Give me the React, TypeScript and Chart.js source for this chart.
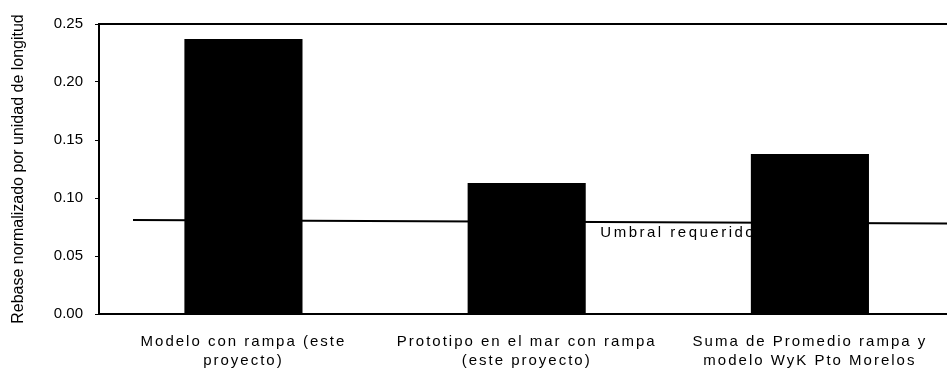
import React, { useEffect, useRef } from 'react';
import { Chart, registerables } from 'chart.js';

Chart.register(...registerables);

const categories: string[][] = [
  ['Modelo con rampa (este', 'proyecto)'],
  ['Prototipo en el mar con rampa', '(este proyecto)'],
  ['Suma de Promedio rampa y', 'modelo WyK Pto Morelos'],
];
const categoryPositions = [1, 2, 3];
const barValues = [0.237, 0.113, 0.138];
const thresholdX = [0.61, 3.484];
const thresholdValues = [0.081, 0.078];
const thresholdLabel = 'Umbral requerido';
const thresholdLabelX = 2.26;
const yTitle = 'Rebase normalizado por unidad de longitud';
const yMin = 0;
const yMax = 0.25;
const yStep = 0.05;
const xMin = 0.49;
const xMax = 3.484;

const FONT = '"Liberation Sans", Arial, Helvetica, sans-serif';

export default function App() {
  const ref = useRef<HTMLCanvasElement | null>(null);

  useEffect(() => {
    document.body.style.margin = '0';
    const canvas = ref.current;
    if (!canvas) return;

    const setSpacing = (ctx: any, v: string) => {
      try { ctx.letterSpacing = v; } catch (e) {}
    };

    const frameAndLabel = {
      id: 'frameAndLabel',
      beforeDraw(chart: any) {
        setSpacing(chart.ctx, '0px');
      },
      beforeDatasetsDraw(chart: any) {
        const { ctx, scales } = chart;
        const x = scales.x.getPixelForValue(thresholdLabelX);
        const t = (thresholdLabelX - thresholdX[0]) / (thresholdX[1] - thresholdX[0]);
        const v = thresholdValues[0] + t * (thresholdValues[1] - thresholdValues[0]);
        const y = scales.y.getPixelForValue(v);
        ctx.save();
        ctx.font = `15px ${FONT}`;
        setSpacing(ctx, '2.5px');
        ctx.fillStyle = '#000';
        ctx.textAlign = 'left';
        ctx.textBaseline = 'middle';
        ctx.fillText(thresholdLabel, x, y + 11);
        ctx.restore();
      },
      afterDatasetsDraw(chart: any) {
        // category labels (drawn after datasets, ticks.z = 1) use a wider spacing
        setSpacing(chart.ctx, '2px');
      },
      afterDraw(chart: any) {
        const { ctx, chartArea } = chart;
        setSpacing(ctx, '0px');
        ctx.save();
        ctx.strokeStyle = '#000';
        ctx.lineWidth = 2;
        ctx.beginPath();
        ctx.moveTo(chartArea.left - 1, chartArea.top);
        ctx.lineTo(chartArea.right, chartArea.top);
        ctx.stroke();
        ctx.restore();
      },
    };

    const chart = new Chart(canvas, {
      type: 'bar',
      data: {
        datasets: [
          {
            type: 'bar',
            data: categoryPositions.map((p, i) => ({ x: p, y: barValues[i] })),
            backgroundColor: '#000',
            borderWidth: 0,
            barPercentage: 0.417,
            categoryPercentage: 1,
            order: 1,
          } as any,
          {
            type: 'line',
            data: thresholdX.map((p, i) => ({ x: p, y: thresholdValues[i] })),
            borderColor: '#000',
            borderWidth: 2,
            pointRadius: 0,
            fill: false,
            order: 2,
          } as any,
        ],
      },
      options: {
        animation: false,
        responsive: true,
        maintainAspectRatio: false,
        layout: { padding: { top: 24, left: 0, right: 0, bottom: 0 } },
        plugins: {
          legend: { display: false },
          tooltip: { enabled: false },
          title: { display: false },
        },
        scales: {
          x: {
            type: 'linear',
            position: 'bottom',
            offset: false,
            min: xMin,
            max: xMax,
            grid: { display: false, drawTicks: false, offset: false },
            border: { display: true, color: '#000', width: 2 },
            ticks: {
              z: 1,
              stepSize: 1,
              includeBounds: false,
              autoSkip: false,
              maxRotation: 0,
              minRotation: 0,
              padding: 18,
              color: '#000',
              font: { family: FONT, size: 15, lineHeight: 1.27 },
              callback: (val: any) => {
                const idx = categoryPositions.indexOf(Number(val));
                return idx >= 0 ? categories[idx] : '';
              },
            },
            afterFit: (s: any) => { s.height = 57; },
          } as any,
          y: {
            type: 'linear',
            min: yMin,
            max: yMax,
            grid: {
              display: true,
              drawOnChartArea: false,
              drawTicks: true,
              tickLength: 4,
              color: '#000',
              lineWidth: 1,
            },
            border: { display: true, color: '#000', width: 2 },
            ticks: {
              stepSize: yStep,
              padding: 12,
              color: '#000',
              font: { family: FONT, size: 15 },
              callback: (val: any) => Number(val).toFixed(2),
            },
            title: {
              display: true,
              text: yTitle,
              color: '#000',
              font: { family: FONT, size: 16 },
              padding: { top: 9, bottom: 0 },
            },
            afterFit: (s: any) => { s.width = 99; },
          } as any,
        },
      },
      plugins: [frameAndLabel],
    });

    return () => chart.destroy();
  }, []);

  return (
    <div style={{ width: 947, height: 371, position: 'relative' }}>
      <canvas ref={ref} />
    </div>
  );
}
